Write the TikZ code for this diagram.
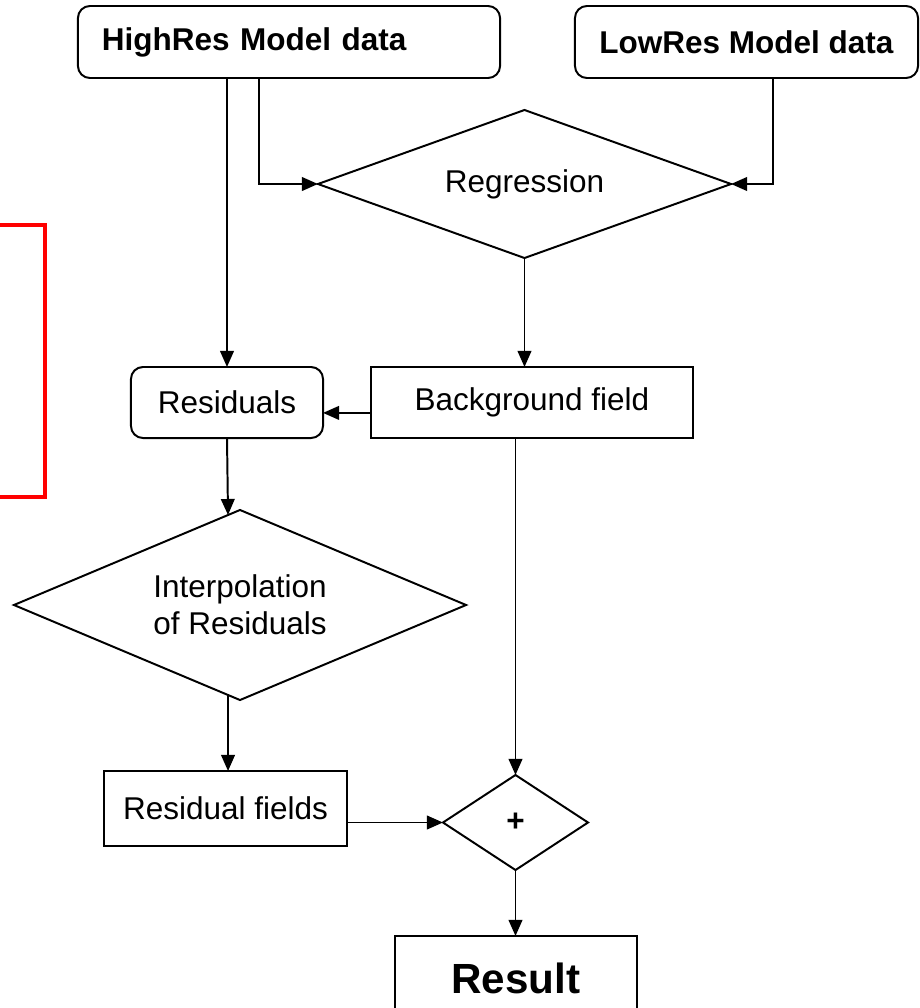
\documentclass[tikz,border=0pt]{standalone}
\usepackage{fontspec}
\setmainfont{Liberation Sans}
\usetikzlibrary{shapes.geometric,arrows.meta,calc}

\tikzstyle{block} = [draw, line width=1.4pt, inner sep=0pt, outer sep=0pt, font=\fontsize{22.4}{26}\selectfont]
\tikzstyle{rblock} = [block, rounded corners=0.3cm]
\tikzstyle{decision} = [block, diamond, align=center]
\tikzstyle{boldtext} = [font=\fontsize{22.4}{26}\selectfont\bfseries]
\tikzstyle{flow} = [line width=1.4pt, -{Triangle[length=0.4cm,width=0.34cm]}]

\begin{document}
\begin{tikzpicture}[x=0.025cm, y=-0.025cm]
	\path[use as bounding box, clip] (0,0) rectangle (920,1008);

	\node[rblock, boldtext, minimum width=10.55cm, minimum height=1.8cm, text width=9.35cm, align=left] (high) at (289,42) {HighRes Model data};
	\node[rblock, boldtext, minimum width=8.575cm, minimum height=1.8cm] (low) at (746.5,42) {LowRes Model data};
	\node[decision, aspect=2.79, minimum width=10.325cm, minimum height=3.7cm] (regr) at (524.5,184) {\raisebox{0.15cm}{Regression}};

	\node[rblock, minimum width=4.8cm, minimum height=1.775cm] (res) at (227,402.5) {Residuals};
	\node[block, minimum width=8.05cm, minimum height=1.775cm] (bg) at (532,402.5) {\raisebox{0.12cm}{Background field}};

	\node[decision, aspect=2.38, minimum width=11.3cm, minimum height=4.75cm] (interp) at (240,605) {Interpolation\\of Residuals};
	\node[block, minimum width=6.075cm, minimum height=1.875cm] (rf) at (225.5,808.5) {Residual fields};
	\node[decision, boldtext, aspect=1.53, minimum width=3.625cm, minimum height=2.375cm] (plus) at (515.5,822.5) {\raisebox{-0.3cm}{+}};
	\node[block, font=\fontsize{30}{36}\selectfont\bfseries, minimum width=6.05cm, minimum height=2.1cm] (result) at (516,978) {Result};

	\coordinate (h2) at (259,78);
	\coordinate (l2) at (773,78);
	\coordinate (itop) at ($(interp.north)!0.053!(interp.west)$);
	\coordinate (ibot) at ($(interp.south)!0.053!(interp.west)$);

	% red frame on the left
	\draw[red, line width=2.8pt] (-10,225) -| (45,497) -- (-10,497);

	\draw[flow] (res.north |- high.south) -- (res.north);
	\draw[flow] (h2) |- (regr.west);
	\draw[flow] (l2) |- (regr.east);
	\draw[flow] (regr.south) -- (regr.south |- bg.north);
	\draw[flow] ([yshift=-0.26cm]bg.west) -- ([yshift=-0.26cm]res.east);
	\draw[flow] (res.south) -- (itop);
	\draw[flow] (ibot) -- (ibot |- rf.north);
	\draw[flow] (bg.south -| plus.north) -- (plus.north);
	\draw[flow] (rf.east |- plus.west) -- (plus.west);
	\draw[flow] (plus.south) -- (plus.south |- result.north);
\end{tikzpicture}
\end{document}
